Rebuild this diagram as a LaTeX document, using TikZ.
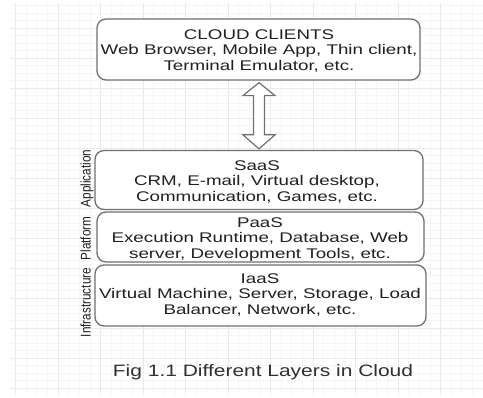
\documentclass[tikz,border=0pt]{standalone}
\usepackage{fontspec}
\usetikzlibrary{calc}
\newfontfamily\boxfont[FakeStretch=1.34]{Liberation Sans}
\newfontfamily\sidefont[FakeStretch=0.84]{Liberation Sans}
\newfontfamily\capfont[FakeStretch=1.27]{Liberation Sans}
\definecolor{gridmajor}{HTML}{EAEAEA}
\definecolor{gridminor}{HTML}{F5F5F5}
\definecolor{edge}{HTML}{707070}
\definecolor{ink}{HTML}{202020}
\definecolor{capink}{HTML}{303030}
\tikzset{
  layer/.style={draw=edge, line width=1.3pt, fill=white, rounded corners=9pt, inner sep=0pt},
  layertext/.style={anchor=north, align=center, inner sep=0pt, text=ink,
    font=\boxfont\fontsize{14}{15.5}\selectfont},
  sidelabel/.style={anchor=base, rotate=90, inner sep=0pt, text=ink,
    font=\sidefont\fontsize{14}{16}\selectfont},
  caption/.style={anchor=base, inner sep=0pt, text=capink,
    font=\capfont\fontsize{16.5}{19}\selectfont},
  blockarrow/.style={draw=edge, line width=1.2pt, fill=white, line join=miter}
}
\begin{document}
\begin{tikzpicture}[x=1pt, y=-1pt]
\useasboundingbox (0,0) rectangle (483,398);
\fill[white] (0,0) rectangle (483,398);

% background grid
\begin{scope}
  \clip (10,4) rectangle (483,395);
  \foreach \i in {-1,...,45}
    \draw[gridminor, line width=0.6pt] ({15.5+\i*10.625},0) -- ({15.5+\i*10.625},400);
  \foreach \j in {0,...,54}
    \draw[gridminor, line width=0.6pt] (0,{-2+\j*7.5}) -- (490,{-2+\j*7.5});
  \foreach \i in {-1,...,11}
    \draw[gridmajor, line width=0.8pt] ({15.5+\i*42.5},0) -- ({15.5+\i*42.5},400);
  \foreach \j in {0,...,14}
    \draw[gridmajor, line width=0.8pt] (0,{-2+\j*30}) -- (490,{-2+\j*30});
\end{scope}

% layer boxes
\node[layer, minimum width=323pt, minimum height=61pt] (clients) at (258.5,49.5) {};
\node[layer, minimum width=328pt, minimum height=59pt] (saas) at (259,180) {};
\node[layer, minimum width=327pt, minimum height=50pt] (paas) at (260.5,237) {};
\node[layer, minimum width=331pt, minimum height=61pt] (iaas) at (260.5,295.5) {};

% box texts
\node[layertext] (clientstext) at (259,29.3)
  {CLOUD CLIENTS\\Web Browser, Mobile App, Thin client,\\Terminal Emulator, etc.};
\node[layertext] (saastext) at (257,160.5)
  {SaaS\\CRM, E-mail, Virtual desktop,\\Communication, Games, etc.};
\node[layertext] (paastext) at (260,217.3)
  {PaaS\\Execution Runtime, Database, Web\\server, Development Tools, etc.};
\node[layertext] (iaastext) at (260,273.3)
  {IaaS\\Virtual Machine, Server, Storage, Load\\Balancer, Network, etc.};

% two-way block arrow between the clients and the SaaS layer
\coordinate (tipA) at ($(clients.south)+(0.5,2)$);
\coordinate (tipB) at ($(saas.north)+(0,-1)$);
\draw[blockarrow] (tipA) -- ++(16,13) -- ++(-10.5,0)
  -- ($(tipB)+(5.5,-14)$) -- ++(10.5,0) -- (tipB)
  -- ++(-16,-14) -- ++(10.5,0)
  -- ($(tipA)+(-5.5,13)$) -- ++(-10.5,0) -- cycle;

% side labels
\node[sidelabel] (applabel) at (90.5,178.5) {Application};
\node[sidelabel] (platlabel) at (90.5,238.5) {Platform};
\node[sidelabel] (infralabel) at (90.5,302.5) {Infrastructure};

% caption
\node[caption] (fig) at (263,377) {Fig 1.1 Different Layers in Cloud};
\end{tikzpicture}
\end{document}
